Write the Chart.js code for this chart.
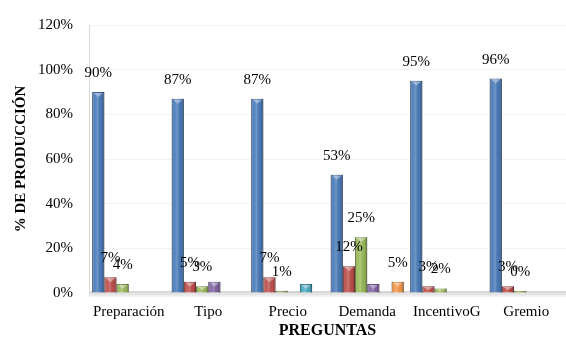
<!DOCTYPE html>
<html>
<head>
<meta charset="utf-8">
<title>% de producción por pregunta</title>
<script src="https://cdn.jsdelivr.net/npm/chart.js@4/dist/chart.umd.min.js"></script>
<style>
  html, body { margin: 0; padding: 0; background: #ffffff; }
  #wrap { width: 566px; height: 346px; }
</style>
</head>
<body>
<div id="wrap"><canvas id="grafico" width="566" height="346"></canvas></div>
<script>
// Preguntas (categorías del eje X)
const preguntas = ['Preparación', 'Tipo', 'Precio', 'Demanda', 'IncentivoG', 'Gremio'];

// Porcentajes de producción por serie (null = sin barra)
const serieAzul    = [90, 87, 87, 53, 95, 96];
const serieRoja    = [7, 5, 7, 12, 3, 3];
const serieVerde   = [4, 3, 1, 25, 2, 0];
const serieMorada  = [null, 5, 0.3, 4, null, null];
const serieCeleste = [null, null, 4, 0.3, null, null];
const serieNaranja = [null, null, null, 5, null, null];

// Marcas del eje Y
const ticksY = [0, 20, 40, 60, 80, 100, 120];

const serif = "'Liberation Serif', 'Times New Roman', serif";

function serie(data, fill, edge, etiquetas) {
  return {
    data: data,
    backgroundColor: fill,
    borderColor: edge,
    borderWidth: 1,
    showValues: etiquetas,
    minBarLength: 0
  };
}

const datasets = [
  serie(serieAzul,    '#4a7cbb', '#35598a', true),
  serie(serieRoja,    '#c0504d', '#8c3836', true),
  serie(serieVerde,   '#9bbb59', '#71893f', true),
  serie(serieMorada,  '#8064a2', '#5c4776', false),
  serie(serieCeleste, '#4bacc6', '#357d91', false),
  serie(serieNaranja, '#f79646', '#b66d31', true)
];
datasets[2].minBarLength = 2;

// Sombreado tipo columna 3D sobre cada barra dibujada por Chart.js
const sombreado = {
  id: 'sombreado',
  afterDatasetsDraw(chart) {
    const ctx = chart.ctx;
    chart.data.datasets.forEach((ds, i) => {
      const meta = chart.getDatasetMeta(i);
      meta.data.forEach((bar, j) => {
        if (ds.data[j] === null) return;
        const p = bar.getProps(['x', 'y', 'base', 'width'], true);
        const l = p.x - p.width / 2, r = p.x + p.width / 2;
        const g = ctx.createLinearGradient(l, 0, r, 0);
        g.addColorStop(0, 'rgba(0,0,0,0.30)');
        g.addColorStop(0.2, 'rgba(255,255,255,0.04)');
        g.addColorStop(0.45, 'rgba(255,255,255,0.20)');
        g.addColorStop(0.75, 'rgba(0,0,0,0.04)');
        g.addColorStop(1, 'rgba(0,0,0,0.34)');
        ctx.save();
        ctx.fillStyle = g;
        ctx.fillRect(l, p.y, p.width, p.base - p.y);
        const h = Math.min(5, (p.base - p.y) * 0.6);
        if (h > 1.5) {
          ctx.fillStyle = 'rgba(255,255,255,0.38)';
          ctx.beginPath();
          ctx.moveTo(l + 1.5, p.y + 1);
          ctx.lineTo(r - 1.5, p.y + 1);
          ctx.lineTo(p.x, p.y + h);
          ctx.closePath();
          ctx.fill();
        }
        ctx.restore();
      });
    });
  }
};

// Suelo gris bajo las columnas
const suelo = {
  id: 'suelo',
  beforeDatasetsDraw(chart) {
    const a = chart.chartArea, ctx = chart.ctx;
    const g = ctx.createLinearGradient(0, a.bottom - 2, 0, a.bottom + 4);
    g.addColorStop(0, '#d4d4d4');
    g.addColorStop(1, '#f4f4f4');
    ctx.save();
    ctx.fillStyle = g;
    ctx.fillRect(a.left, a.bottom - 2, a.right - a.left, 6);
    ctx.restore();
  }
};

// Etiquetas de valor sobre las barras
const etiquetasValor = {
  id: 'etiquetasValor',
  afterDatasetsDraw(chart) {
    const ctx = chart.ctx;
    ctx.save();
    ctx.font = '15px ' + serif;
    ctx.fillStyle = '#000000';
    ctx.textAlign = 'center';
    ctx.textBaseline = 'middle';
    chart.data.datasets.forEach((ds, i) => {
      if (!ds.showValues) return;
      const meta = chart.getDatasetMeta(i);
      meta.data.forEach((bar, j) => {
        const v = ds.data[j];
        if (v === null) return;
        const p = bar.getProps(['x', 'y'], true);
        ctx.fillText(v + '%', p.x, p.y - 19);
      });
    });
    ctx.restore();
  }
};

new Chart(document.getElementById('grafico'), {
  type: 'bar',
  data: { labels: preguntas, datasets: datasets },
  plugins: [suelo, sombreado, etiquetasValor],
  options: {
    responsive: false,
    animation: false,
    devicePixelRatio: 1,
    layout: { padding: { left: 8, right: 0, top: 14, bottom: 6 } },
    datasets: { bar: { categoryPercentage: 0.92, barPercentage: 1.0 } },
    plugins: { legend: { display: false }, tooltip: { enabled: false } },
    scales: {
      x: {
        afterFit(scale) { scale.height = 47; },
        grid: { display: false, drawTicks: false },
        border: { display: false },
        ticks: {
          color: '#000000',
          font: { family: serif, size: 15 },
          padding: 10,
          maxRotation: 0,
          autoSkip: false
        },
        title: {
          display: true,
          text: 'PREGUNTAS',
          color: '#000000',
          font: { family: serif, size: 16, weight: 'bold' },
          padding: { top: 0, bottom: 0 }
        }
      },
      y: {
        min: 0,
        max: 120,
        afterBuildTicks(scale) { scale.ticks = ticksY.map(v => ({ value: v })); },
        afterFit(scale) { scale.width = 81; },
        grid: { color: '#f3f3f3', drawTicks: false },
        border: { display: true, color: '#d9d9d9' },
        ticks: {
          color: '#000000',
          font: { family: serif, size: 15 },
          padding: 16,
          callback: v => v + '%'
        },
        title: {
          display: true,
          text: '% DE PRODUCCIÓN',
          color: '#000000',
          font: { family: serif, size: 15, weight: 'bold' },
          padding: { top: 4, bottom: 8 }
        }
      }
    }
  }
});
</script>
</body>
</html>
